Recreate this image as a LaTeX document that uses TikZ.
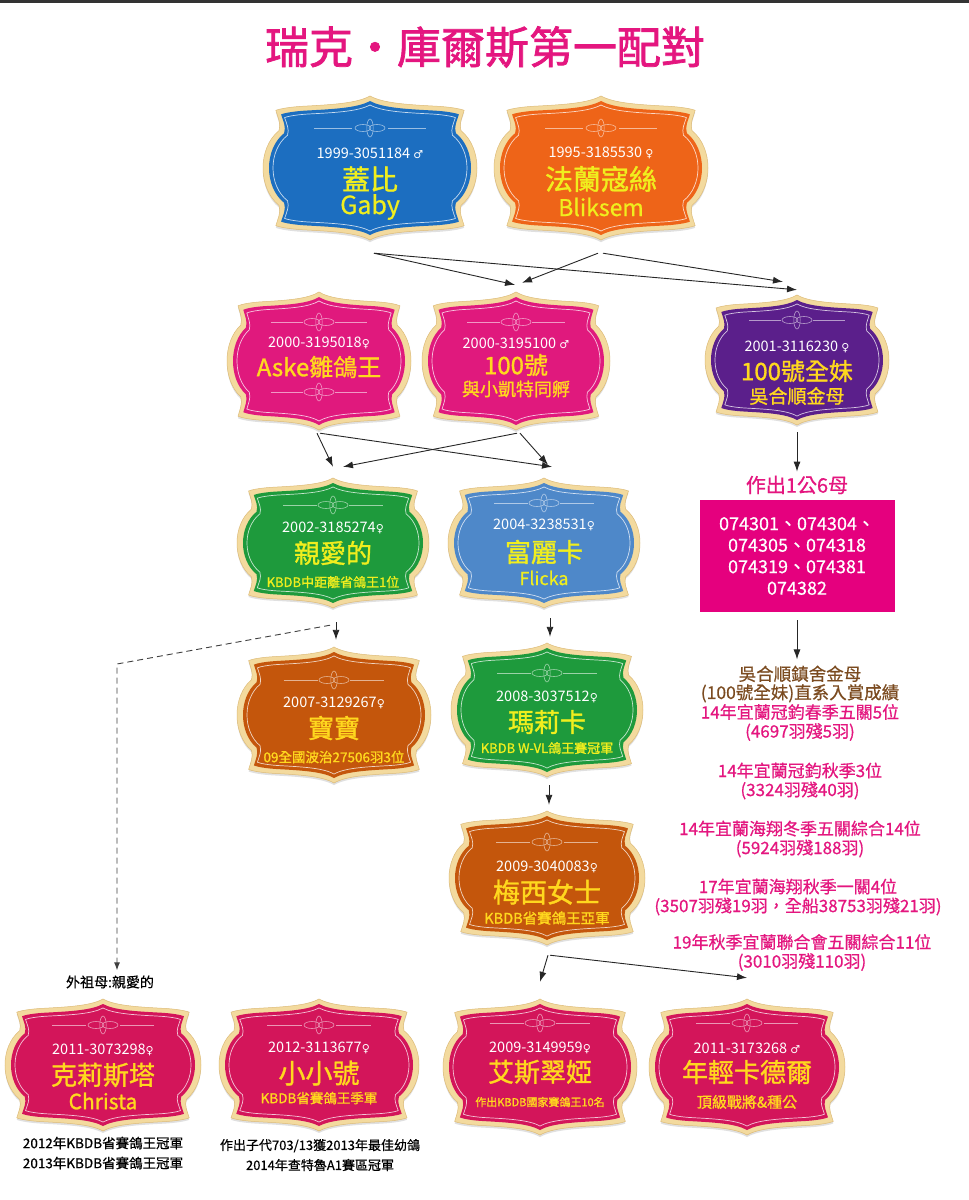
\documentclass[tikz,border=0pt]{standalone}
\usepackage{fontspec}
\setmainfont{Noto Sans CJK TC}
\newfontfamily\boldcjk[FakeBold=1.2]{Noto Sans CJK TC}
\newfontfamily\medcjk[FakeBold=0.6]{Noto Sans CJK TC}
\newfontfamily\titlefont[FakeBold=1.6]{Noto Sans CJK TC}
\newfontfamily\symfont{DejaVu Sans}
\usetikzlibrary{arrows.meta}
\newcommand{\fs}[1]{\fontsize{#1}{#1}\selectfont}
\newcommand{\male}{{\symfont\fontsize{11}{11}\selectfont ♂}}
\newcommand{\female}{{\symfont\fontsize{11}{11}\selectfont ♀}}
\definecolor{cream}{HTML}{F3DA9E}
\definecolor{creamedge}{HTML}{DDBB78}
\definecolor{cBlue}{HTML}{1C6EC0}
\definecolor{cOrange}{HTML}{EE6418}
\definecolor{cPink}{HTML}{E0197D}
\definecolor{cPurple}{HTML}{5B1F8B}
\definecolor{cGreen}{HTML}{1E9A3C}
\definecolor{cSky}{HTML}{4E88C9}
\definecolor{cBrown}{HTML}{C4560C}
\definecolor{cCrimson}{HTML}{D3155A}
\definecolor{nameYellow}{HTML}{F0EE1E}
\definecolor{nameGold}{HTML}{FFD81E}
\definecolor{boxPink}{HTML}{E5007E}
\definecolor{txtPink}{HTML}{E4167F}
\definecolor{txtBrown}{HTML}{7B4B20}
\newcommand{\bshape}[1]{\path[#1] (0,-1) .. controls (0.12,-0.9) and (0.35,-0.88) .. (0.6,-0.86) .. controls (0.75,-0.85) and (0.85,-0.82) .. (0.88,-0.8) .. controls (0.86,-0.7) and (0.83,-0.62) .. (0.85,-0.52) .. controls (0.95,-0.4) and (1,-0.2) .. (1,0) .. controls (1,0.2) and (0.95,0.4) .. (0.85,0.52) .. controls (0.83,0.62) and (0.86,0.7) .. (0.88,0.8) .. controls (0.85,0.82) and (0.75,0.85) .. (0.6,0.86) .. controls (0.35,0.88) and (0.12,0.9) .. (0,1) .. controls (-0.12,0.9) and (-0.35,0.88) .. (-0.6,0.86) .. controls (-0.75,0.85) and (-0.85,0.82) .. (-0.88,0.8) .. controls (-0.86,0.7) and (-0.83,0.62) .. (-0.85,0.52) .. controls (-0.95,0.4) and (-1,0.2) .. (-1,0) .. controls (-1,-0.2) and (-0.95,-0.4) .. (-0.85,-0.52) .. controls (-0.83,-0.62) and (-0.86,-0.7) .. (-0.88,-0.8) .. controls (-0.85,-0.82) and (-0.75,-0.85) .. (-0.6,-0.86) .. controls (-0.35,-0.88) and (-0.12,-0.9) .. (0,-1) -- cycle;}
% name, cx, cy, W, H, colour
\newcommand{\badge}[6]{%
  \node[inner sep=0pt, minimum width={2*#4}, minimum height={2*#5}] (#1) at (#2,#3) {};
  \begin{scope}[shift={(#2,#3)}, xscale=#4, yscale=#5]
    \begin{scope}[shift={(0,0.03)}]\bshape{fill=black!12}\end{scope}
    \bshape{fill=cream, draw=creamedge, line width=0.5pt}
    \begin{scope}[xscale={1-6/#4}, yscale={1-5/#5}]\bshape{fill=#6}\end{scope}
    \begin{scope}[xscale={1-10/#4}, yscale={1-9/#5}]\bshape{draw=white!75!#6, line width=0.7pt}\end{scope}
  \end{scope}}
% cx, oy, W, colour
\newcommand{\orn}[4]{%
  \begin{scope}[shift={(#1,#2)}, draw=white!55!#4, line width=0.6pt]
    \draw ({-0.52*#3},0) -- ({-0.17*#3},0);
    \draw ({0.17*#3},0) -- ({0.52*#3},0);
    \draw (-7,0) ellipse [x radius=8, y radius=3.5];
    \draw (7,0) ellipse [x radius=8, y radius=3.5];
    \draw (0,0) ellipse [x radius=3.2, y radius=9];
  \end{scope}}
\tikzset{
  idtxt/.style={text=white, inner sep=0pt, font=\fs{14.5}},
  arr/.style={-{Latex[length=10pt,width=7pt]}, line width=0.9pt, draw=black!85},
  dasharr/.style={-{Latex[length=8pt,width=6pt]}, line width=0.9pt, draw=black!75, dash pattern=on 6pt off 4pt},
  plain/.style={inner sep=0pt, align=center},
  nm/.style={plain, text=#1, font=\boldcjk\fs{26}},
  nm/.default=nameYellow,
}
\begin{document}
\begin{tikzpicture}[x=1pt, y=-1pt]
\useasboundingbox (0,0) rectangle (969,1200);
\fill[white] (0,0) rectangle (969,1200);
\draw[line width=2.5pt, black!80] (0,1.25) -- (969,1.25);

\node[plain, text=txtPink, font=\titlefont\fs{44}] (title) at (485,47) {瑞克・庫爾斯第一配對};

% badges
\badge{gaby}{370}{168}{107}{72}{cBlue}
\badge{bliks}{601}{168}{107}{72}{cOrange}
\badge{aske}{319}{361}{92}{69}{cPink}
\badge{hao}{516}{361}{94}{69}{cPink}
\badge{purple}{797}{360}{92}{65}{cPurple}
\badge{qin}{333}{543}{96}{65}{cGreen}
\badge{fu}{544}{543}{96}{65}{cSky}
\badge{bao}{334}{715}{97}{68}{cBrown}
\badge{ma}{547}{710}{96}{67}{cGreen}
\badge{mei}{547}{878}{98}{67}{cBrown}
\badge{ke}{103}{1065}{98}{66}{cCrimson}
\badge{xiao}{319}{1065}{100}{66}{cCrimson}
\badge{ai}{540}{1067}{97}{68}{cCrimson}
\badge{nian}{747}{1067}{98}{68}{cCrimson}

% ornaments
\orn{370}{128}{107}{cBlue}
\orn{601}{128}{107}{cOrange}
\orn{319}{322}{92}{cPink}
\orn{319}{392}{92}{cPink}
\orn{516}{322}{94}{cPink}
\orn{797}{320}{92}{cPurple}
\orn{333}{505}{96}{cGreen}
\orn{544}{503}{96}{cSky}
\orn{334}{680}{97}{cBrown}
\orn{547}{673}{96}{cGreen}
\orn{547}{842}{98}{cBrown}
\orn{103}{1025}{98}{cCrimson}
\orn{319}{1025}{100}{cCrimson}
\orn{540}{1023}{97}{cCrimson}
\orn{747}{1023}{98}{cCrimson}

% badge texts
\node[idtxt] (gaby-id) at (370,153) {1999-3051184 \male};
\node[nm, font=\boldcjk\fs{28}] (gaby-cn) at (370,179) {蓋比};
\node[nm, font=\medcjk\fs{25}] (gaby-en) at (370,207) {Gaby};

\node[idtxt] (bliks-id) at (601,153) {1995-3185530 \female};
\node[nm, font=\boldcjk\fs{28}] (bliks-cn) at (601,179) {法蘭寇絲};
\node[nm, font=\medcjk\fs{23}] (bliks-en) at (601,207) {Bliksem};

\node[idtxt] (aske-id) at (319,343) {2000-3195018\female};
\node[nm=nameGold, font=\boldcjk\fs{24}] (aske-cn) at (319,367) {Aske雛鴿王};

\node[idtxt] (hao-id) at (516,343) {2000-3195100 \male};
\node[nm=nameGold, font=\boldcjk\fs{24}] (hao-cn) at (516,365) {100號};
\node[nm=nameGold, font=\boldcjk\fs{18}] (hao-sub) at (516,389) {與小凱特同孵};

\node[idtxt] (purple-id) at (797,347) {2001-3116230 \female};
\node[nm=nameGold, font=\boldcjk\fs{24}] (purple-cn) at (797,371) {100號全妹};
\node[nm=nameGold, font=\boldcjk\fs{19}] (purple-sub) at (797,396) {吳合順金母};

\node[idtxt] (qin-id) at (333,528) {2002-3185274\female};
\node[nm] (qin-cn) at (333,553) {親愛的};
\node[nm, font=\boldcjk\fs{13}] (qin-sub) at (333,582) {KBDB中距離省鴿王1位};

\node[idtxt] (fu-id) at (544,525) {2004-3238531\female};
\node[nm] (fu-cn) at (544,552) {富麗卡};
\node[nm, font=\medcjk\fs{18}] (fu-en) at (544,578) {Flicka};

\node[idtxt] (bao-id) at (334,703) {2007-3129267\female};
\node[nm=nameGold] (bao-cn) at (334,728) {寶寶};
\node[nm=nameGold, font=\boldcjk\fs{13.5}] (bao-sub) at (334,757) {09全國波治27506羽3位};

\node[idtxt] (ma-id) at (547,697) {2008-3037512\female};
\node[nm] (ma-cn) at (547,722) {瑪莉卡};
\node[nm, font=\boldcjk\fs{13}] (ma-sub) at (547,748) {KBDB W-VL鴿王賽冠軍};

\node[idtxt] (mei-id) at (547,867) {2009-3040083\female};
\node[nm=nameGold, font=\boldcjk\fs{27}] (mei-cn) at (547,892) {梅西女士};
\node[nm=nameGold, font=\boldcjk\fs{14.5}] (mei-sub) at (547,918) {KBDB省賽鴿王亞軍};

\node[idtxt] (ke-id) at (103,1050) {2011-3073298\female};
\node[nm=nameGold] (ke-cn) at (103,1075) {克莉斯塔};
\node[nm=nameGold, font=\boldcjk\fs{21}] (ke-en) at (103,1101) {Christa};

\node[idtxt] (xiao-id) at (319,1048) {2012-3113677\female};
\node[nm=nameGold, font=\boldcjk\fs{27}] (xiao-cn) at (319,1073) {小小號};
\node[nm=nameGold, font=\boldcjk\fs{13.5}] (xiao-sub) at (319,1098) {KBDB省賽鴿王季軍};

\node[idtxt] (ai-id) at (540,1048) {2009-3149959\female};
\node[nm=nameGold] (ai-cn) at (540,1072) {艾斯翠婭};
\node[nm=nameGold, font=\boldcjk\fs{11}] (ai-sub) at (540,1102) {作出KBDB國家賽鴿王10名};

\node[idtxt] (nian-id) at (747,1048) {2011-3173268 \male};
\node[nm=nameGold] (nian-cn) at (747,1072) {年輕卡德爾};
\node[nm=nameGold, font=\boldcjk\fs{15}] (nian-sub) at (747,1102) {頂級戰將\&種公};

% right column
\node[plain, text=txtPink, font=\medcjk\fs{20}] (chu) at (797,485) {作出1公6母};
\node[fill=boxPink, text=white, minimum width=195, minimum height=112, inner sep=0pt, align=center, font=\medcjk\fontsize{18}{21.5}\selectfont] (box) at (797,556) {074301、074304、\\074305、074318\\074319、074381\\074382};

\node[plain, text=txtBrown, font=\medcjk\fontsize{17.5}{18.5}\selectfont] (res0) at (800,684) {吳合順鎮舍金母\\(100號全妹)直系入賞成績};
\node[plain, text=txtPink, font=\medcjk\fontsize{17}{19}\selectfont] (res1) at (800,722.5) {14年宜蘭冠鈞春季五關5位\\(4697羽殘5羽)};
\node[plain, text=txtPink, font=\medcjk\fontsize{17}{19}\selectfont] (res2) at (800,781) {14年宜蘭冠鈞秋季3位\\(3324羽殘40羽)};
\node[plain, text=txtPink, font=\medcjk\fontsize{17}{19}\selectfont] (res3) at (800,839) {14年宜蘭海翔冬季五關綜合14位\\(5924羽殘188羽)};
\node[plain, text=txtPink, font=\medcjk\fontsize{17}{19}\selectfont] (res4) at (798,897) {17年宜蘭海翔秋季一關4位\\(3507羽殘19羽，全船38753羽殘21羽)};
\node[plain, text=txtPink, font=\medcjk\fontsize{17}{19}\selectfont] (res5) at (802,952.5) {19年秋季宜蘭聯合會五關綜合11位\\(3010羽殘110羽)};

% captions
\node[plain, font=\medcjk\fs{14}] (wzm) at (110,982) {外祖母:親愛的};
\node[plain, font=\medcjk\fontsize{13.5}{20}\selectfont] (ke-note) at (103,1153) {2012年KBDB省賽鴿王冠軍\\2013年KBDB省賽鴿王冠軍};
\node[plain, font=\medcjk\fontsize{13}{20}\selectfont] (xiao-note) at (320,1155) {作出子代703/13獲2013年最佳幼鴿\\2014年查特魯A1賽區冠軍};

% connectors
\draw[arr] ([shift={(4,13)}]gaby.south) -- ([shift={(-1,-7)}]hao.north);
\draw[arr] ([shift={(4,13)}]gaby.south) -- ([shift={(0,-5)}]purple.north);
\draw[arr] ([shift={(-3,13)}]bliks.south) -- ([shift={(6,-9)}]hao.north);
\draw[arr] ([shift={(2,13)}]bliks.south) -- ([shift={(-14,-13)}]purple.north);

\draw[arr] ([shift={(-2,3)}]aske.south) -- ([shift={(0,-11)}]qin.north);
\draw[arr] ([shift={(1,3)}]aske.south) -- ([shift={(8,-11)}]fu.north);
\draw[arr] ([shift={(1,3)}]hao.south) -- ([shift={(10,-11)}]qin.north);
\draw[arr] ([shift={(4,3)}]hao.south) -- ([shift={(4,-13)}]fu.north);

\draw[arr] ([shift={(0,7)}]purple.south) -- ([yshift=4pt]chu.north);
\draw[arr, shorten <=8pt, shorten >=6pt] (box.south) -- (box.south |- res0.north);

\draw[arr] ([shift={(3,14)}]qin.south) -- ([shift={(2,-7)}]bao.north);
\draw[arr] ([shift={(6,10)}]fu.south) -- ([shift={(3,-6)}]ma.north);
\draw[arr] ([shift={(2,8)}]ma.south) -- ([shift={(2,-6)}]mei.north);
\draw[arr] ([shift={(1,10)}]mei.south) -- ([shift={(0,-17)}]ai.north);
\draw[arr] ([shift={(3,10)}]mei.south) -- ([shift={(0,-21)}]nian.north);

\coordinate (dcorner) at (117,664);
\draw[dasharr] ([shift={(-3,17)}]qin.south) -- (dcorner) -- ([shift={(7,-5)}]wzm.north);
\end{tikzpicture}
\end{document}
